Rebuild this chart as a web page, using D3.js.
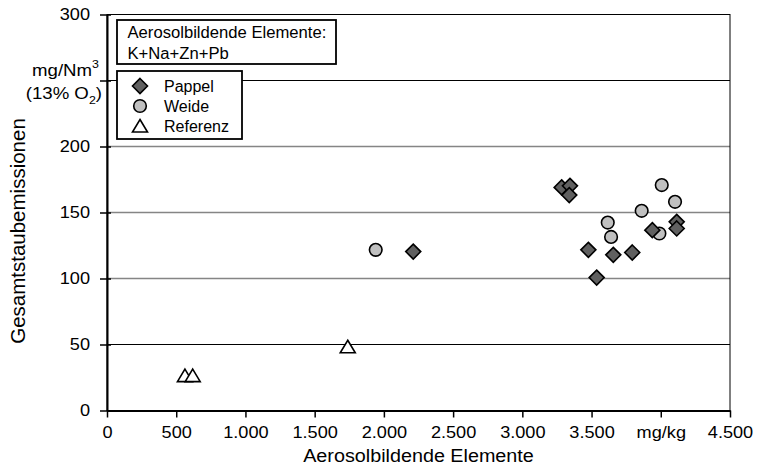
<!DOCTYPE html>
<html>
<head>
<meta charset="utf-8">
<script src="https://cdn.jsdelivr.net/npm/d3@7"></script>
<style>
  body { margin: 0; background: #fff; }
  text { font-family: "Liberation Sans", Arial, sans-serif; fill: #000; }
</style>
</head>
<body>
<div id="wrapper"></div>
<script>
// values (x: mg/kg, y: mg/Nm3)
const pappel = [[2212, 120.4], [3284, 169.0], [3344, 170.2], [3339, 163.2], [3477, 121.7],
  [3657, 117.9], [3794, 119.7], [3537, 100.7], [3939, 136.6], [4115, 142.9], [4115, 137.9]]
const weide = [[1941, 121.7], [4007, 170.8], [4103, 158.1], [3862, 151.3], [3617, 142.4],
  [3641, 131.5], [3990, 134.1]]
const referenz = [[563, 26.4], [619, 26.4], [1739, 48.3]]

const seriesNames = ["Pappel", "Weide", "Referenz"]
const xTicks = [0, 500, 1000, 1500, 2000, 2500, 3000, 3500, 4000, 4500]
const yTicks = [0, 50, 100, 150, 200, 250, 300]
const gridValues = [50, 100, 150, 200, 250]
const xUnit = "mg/kg"
const xTitle = "Aerosolbildende Elemente"
const yTitle = "Gesamtstaubemissionen"
const legendTitle = ["Aerosolbildende Elemente:", "K+Na+Zn+Pb"]

function drawChart() {
  const dimensions = {
    width: 758,
    height: 467,
    margin: { top: 14.5, right: 28, bottom: 56.5, left: 107 }
  }
  dimensions.boundedWidth = dimensions.width - dimensions.margin.left - dimensions.margin.right
  dimensions.boundedHeight = dimensions.height - dimensions.margin.top - dimensions.margin.bottom

  const svg = d3.select("#wrapper").append("svg")
    .attr("width", dimensions.width)
    .attr("height", dimensions.height)

  const bounds = svg.append("g")
    .attr("transform", `translate(${dimensions.margin.left},${dimensions.margin.top})`)

  const xScale = d3.scaleLinear().domain([0, 4500]).range([0, dimensions.boundedWidth])
  const yScale = d3.scaleLinear().domain([0, 300]).range([dimensions.boundedHeight, 0])

  // helper for horizontally stretched text (reference text is a bit wide)
  const addText = (parent, str, x, y, size, sx, anchor) => parent.append("text")
    .attr("transform", `translate(${x},${y}) scale(${sx},1)`)
    .attr("text-anchor", anchor || "start")
    .style("font-size", size + "px")
    .text(str)

  // gridlines
  bounds.append("g").selectAll("line")
    .data(gridValues)
    .enter().append("line")
      .attr("x1", 0)
      .attr("x2", dimensions.boundedWidth)
      .attr("y1", d => yScale(d))
      .attr("y2", d => yScale(d))
      .attr("stroke", d => (d === 250 || d === 50) ? "#000" : "#858585")
      .attr("stroke-width", d => (d === 250 || d === 50) ? 1 : 1.6)

  // frame top/right
  bounds.append("rect")
    .attr("width", dimensions.boundedWidth)
    .attr("height", dimensions.boundedHeight)
    .attr("fill", "none")
    .attr("stroke", "#000")
    .attr("stroke-width", 1)

  const fmt = d3.formatLocale({ decimal: ",", thousands: ".", grouping: [3], currency: ["", ""] }).format(",")

  // x axis
  const xAxis = bounds.append("g")
    .attr("transform", `translate(0,${dimensions.boundedHeight})`)
    .call(d3.axisBottom(xScale)
      .tickValues(xTicks)
      .tickSizeInner(7)
      .tickSizeOuter(0)
      .tickPadding(9)
      .tickFormat(d => d === 4000 ? xUnit : fmt(d)))
  xAxis.select(".domain").attr("stroke", "#000").attr("stroke-width", 2)
  xAxis.selectAll(".tick line").attr("stroke", "#000").attr("stroke-width", 1.5)
  xAxis.selectAll(".tick text")
    .style("font-size", "16.5px")
    .attr("font-family", null)
    .attr("transform", "scale(1.1,1)")

  // y axis
  const yAxis = bounds.append("g")
    .call(d3.axisLeft(yScale)
      .tickValues(yTicks)
      .tickSizeInner(7)
      .tickSizeOuter(0)
      .tickFormat(d => d === 250 ? "" : d))
  yAxis.select(".domain").attr("stroke", "#000").attr("stroke-width", 2)
  yAxis.selectAll(".tick line").attr("stroke", "#000").attr("stroke-width", 1.5).attr("x2", 4).attr("x1", -7)
  yAxis.selectAll(".tick text")
    .style("font-size", "16.5px")
    .attr("x", -17 / 1.1)
    .attr("transform", "scale(1.1,1)")

  // unit label at the 250 tick
  const unit1 = bounds.append("text")
    .attr("transform", `translate(-8,${yScale(250) - 5}) scale(1.13,1)`)
    .attr("text-anchor", "end")
    .style("font-size", "16.5px")
  unit1.append("tspan").text("mg/Nm")
  unit1.append("tspan").text("3").style("font-size", "11px").attr("dy", -8)
  const unit2 = bounds.append("text")
    .attr("transform", `translate(-5,${yScale(250) + 18}) scale(1.13,1)`)
    .attr("text-anchor", "end")
    .style("font-size", "16.5px")
  unit2.append("tspan").text("(13% O")
  unit2.append("tspan").text("2").style("font-size", "11px").attr("dy", 5)
  unit2.append("tspan").text(")").attr("dy", -5)

  // axis titles
  addText(svg, xTitle, dimensions.margin.left + dimensions.boundedWidth / 2, 462, 17.5, 1.13, "middle")
  svg.append("text")
    .attr("transform", "translate(24.5,231) rotate(-90)")
    .attr("text-anchor", "middle")
    .style("font-size", "20.5px")
    .text(yTitle)

  // markers
  const diamond = "M0,-7.5L7.5,0L0,7.5L-7.5,0Z"
  const triangle = "M0,-6.5L7.5,6L-7.5,6Z"
  const drawMarker = (sel, name) => {
    if (name === "Pappel") {
      sel.append("path").attr("d", diamond).attr("fill", "#606060")
    } else if (name === "Weide") {
      sel.append("circle").attr("r", 6.3).attr("fill", "#c0c0c0")
    } else {
      sel.append("path").attr("d", triangle).attr("fill", "#fff")
    }
    sel.selectAll("path, circle").attr("stroke", "#000").attr("stroke-width", 1.6)
  }

  const series = { Pappel: pappel, Weide: weide, Referenz: referenz }
  const drawOrder = ["Weide", "Pappel", "Referenz"]
  drawOrder.forEach(name => {
    bounds.append("g").selectAll("g")
      .data(series[name])
      .enter().append("g")
        .attr("transform", d => `translate(${xScale(d[0])},${yScale(d[1])})`)
        .each(function() { drawMarker(d3.select(this), name) })
  })

  // legend: title box
  const legend = svg.append("g").attr("id", "legend")
  legend.append("rect")
    .attr("x", 117).attr("y", 20).attr("width", 219).attr("height", 44)
    .attr("fill", "#fff").attr("stroke", "#000").attr("stroke-width", 1.8)
  legendTitle.forEach((t, i) => addText(legend, t, 127.5, 37.5 + i * 21.5, 16, 1.04))

  // legend: series box
  legend.append("rect")
    .attr("x", 117).attr("y", 71).attr("width", 125).attr("height", 68)
    .attr("fill", "#fff").attr("stroke", "#000").attr("stroke-width", 1.8)
  seriesNames.forEach((name, i) => {
    const g = legend.append("g").attr("transform", `translate(140,${86 + i * 20})`)
    drawMarker(g, name)
    addText(legend, name, 164, 91.7 + i * 20, 16, 1.0)
  })
}

drawChart()
</script>
</body>
</html>
